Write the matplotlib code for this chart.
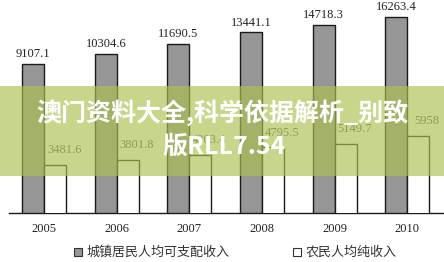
import matplotlib
matplotlib.use('Agg')
import matplotlib.pyplot as plt
from matplotlib.patches import Rectangle
import numpy as np

# data
years = ['2005', '2006', '2007', '2008', '2009', '2010']
urban = [9107.1, 10304.6, 11690.5, 13441.1, 14718.3, 16263.4]
rural = [3481.6, 3801.8, 4203.4, 4795.5, 5149.7, 5958]
urban_label = '城镇居民人均可支配收入'
rural_label = '农民人均纯收入'
watermark = ['澳门资料大全,科学依据解析_别致', '版RLL7.54']

num_font = 'Liberation Serif'
cjk_font = ['Noto Sans CJK SC', 'DejaVu Sans']

fig = plt.figure(figsize=(4.44, 2.62), dpi=100)
fig.patch.set_facecolor('white')

# axes: baseline at y=213px, spans x=9..444px
ax = fig.add_axes([9 / 444, 49 / 262, 435 / 444, 213 / 262])
ax2 = ax.twinx()

x = np.arange(len(years))
w = 0.303

# the two series are drawn on their own (non linear) scales, like the original
ax.set_yscale('log')
ax2.set_yscale('log')
ax.bar(x - w / 2, urban, width=w, color='#969696', edgecolor='#1a1a1a', linewidth=1.0, zorder=2)
ax2.bar(x + w / 2, rural, width=w, color='white', edgecolor='#1a1a1a', linewidth=1.0, zorder=2)
ax.set_ylim(1463, 19985)
ax2.set_ylim(1421, 73990)
ax.set_xlim(-0.4866, 5.509)
ax2.set_xlim(-0.4866, 5.509)

for xi, v in zip(x, urban):
    ax.annotate(f'{v}', (xi - w / 2, v), xytext=(0, 7), textcoords='offset points',
                ha='center', va='center', fontsize=9, family=num_font, color='#222222')
for xi, v in zip(x, rural):
    ax2.annotate(f'{v:g}', (xi + w / 2, v), xytext=(6.5, 10.5), textcoords='offset points',
                 ha='center', va='center', fontsize=9, family=num_font, color='#555555')

for a in (ax, ax2):
    for s in ['top', 'right', 'left']:
        a.spines[s].set_visible(False)
    a.set_yticks([])
    a.yaxis.set_minor_locator(matplotlib.ticker.NullLocator())
    a.patch.set_visible(False)
ax2.spines['bottom'].set_visible(False)
ax.spines['bottom'].set_color('#1a1a1a')
ax.spines['bottom'].set_linewidth(1.0)
ax.set_xticks(x)
ax.set_xticklabels(years, fontsize=9, family=num_font, color='#222222')
ax.tick_params(axis='x', length=0, pad=7)

# legend
fig.add_artist(Rectangle((73.5 / 444, 1 - 256 / 262), 8 / 444, 8 / 262, transform=fig.transFigure,
                         facecolor='#969696', edgecolor='#333333', linewidth=0.8))
fig.text(86 / 444, 1 - 252 / 262, urban_label, fontsize=9.4, family=cjk_font,
         color='#333333', ha='left', va='center')
fig.add_artist(Rectangle((292.5 / 444, 1 - 256 / 262), 8 / 444, 8 / 262, transform=fig.transFigure,
                         facecolor='white', edgecolor='#333333', linewidth=0.8))
fig.text(306 / 444, 1 - 252 / 262, rural_label, fontsize=9.4, family=cjk_font,
         color='#333333', ha='left', va='center')

# watermark band over the chart
fig.add_artist(Rectangle((0, 1 - 175.5 / 262), 1, 89.5 / 262, transform=fig.transFigure,
                         facecolor='#acc251', alpha=0.66, edgecolor='none', zorder=10))
fig.text(0.5, 1 - 113 / 262, watermark[0], fontsize=18, fontweight='heavy', family=cjk_font,
         color='white', ha='center', va='center', zorder=11)
fig.text(0.505, 1 - 147 / 262, watermark[1], fontsize=18, fontweight='heavy', family=cjk_font,
         color='white', ha='center', va='center', zorder=11)

fig.savefig('out.png', dpi=100)
